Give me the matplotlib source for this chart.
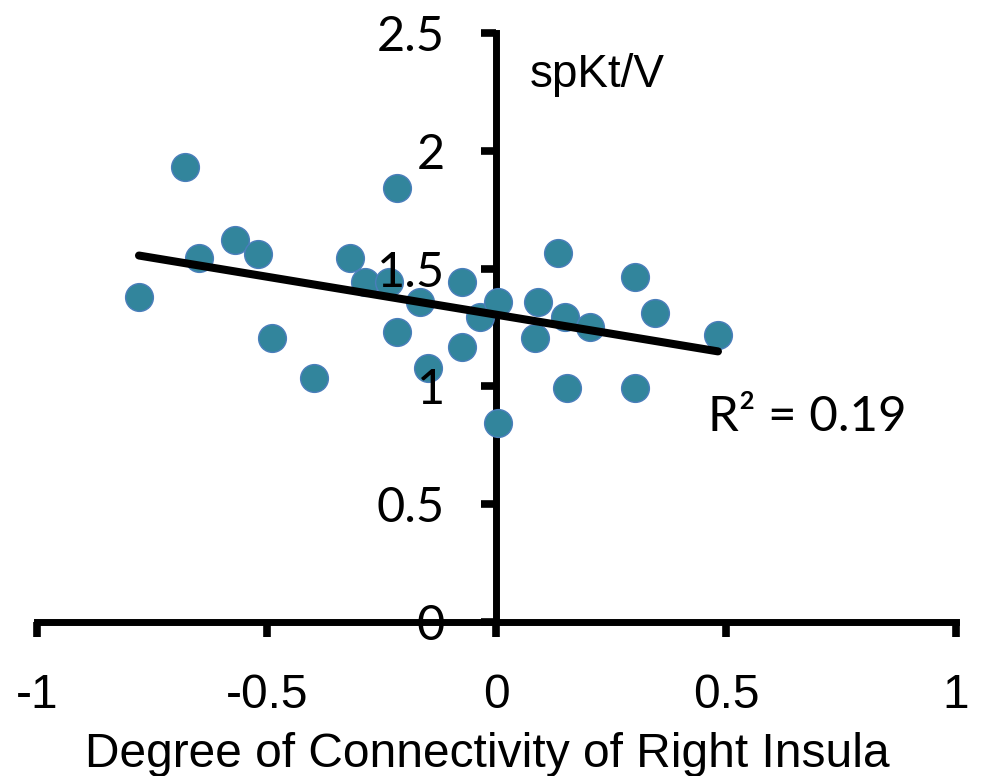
import numpy as np
import matplotlib
matplotlib.use("Agg")
import matplotlib.pyplot as plt

# Degree of connectivity of right insula vs spKt/V
connectivity = [-0.678, -0.569, -0.519, -0.647, -0.778, -0.489, -0.397, -0.319,
                -0.286, -0.233, -0.166, -0.217, -0.217, -0.075, -0.075, -0.149,
                -0.036, 0.003, 0.003, 0.090, 0.084, 0.134, 0.149, 0.203,
                0.301, 0.345, 0.482, 0.153, 0.301]
spktv = [1.931, 1.621, 1.562, 1.545, 1.379, 1.205, 1.036, 1.545,
         1.443, 1.443, 1.358, 1.842, 1.231, 1.443, 1.167, 1.078,
         1.295, 1.358, 0.845, 1.358, 1.205, 1.566, 1.295, 1.252,
         1.464, 1.312, 1.218, 0.993, 0.993]
x_ticks = [-1, -0.5, 0, 0.5, 1]
y_ticks = [0, 0.5, 1, 1.5, 2, 2.5]

x = np.array(connectivity)
y = np.array(spktv)

fig = plt.figure(figsize=(9.81, 7.76), dpi=100)
ax = fig.add_axes([0.0377, 0.1985, 0.9368, 0.759])

ax.scatter(x, y, s=400, color="#32859C", edgecolor="#4A7EBB", linewidth=1, zorder=2.3)

# linear trendline
slope, intercept = np.polyfit(x, y, 1)
xl = np.array([x.min(), x.max()])
ax.plot(xl, slope * xl + intercept, color="black", linewidth=5.8,
        solid_capstyle="round", zorder=2.4)

ax.set_xlim(-1, 1)
ax.set_ylim(0, 2.5)

ax.spines["left"].set_position(("data", 0))
ax.spines["bottom"].set_position(("data", 0))
ax.spines["top"].set_visible(False)
ax.spines["right"].set_visible(False)
for s in ["left", "bottom"]:
    ax.spines[s].set_linewidth(5)
    ax.spines[s].set_zorder(2)

ax.set_xticks(x_ticks)
ax.set_xticklabels(["-1", "-0.5", "0", "0.5", "1"], fontsize=34.5, family="Liberation Sans")
ax.set_yticks(y_ticks)
ax.set_yticklabels(["0", "0.5", "1", "1.5", "2", "2.5"], fontsize=35, family="Lato")
ax.tick_params(axis="both", direction="out", length=11, width=5.5, pad=26)
ax.xaxis.set_zorder(2.6)
ax.yaxis.set_zorder(2.6)

ax.text(0.073, 2.271, "spKt/V", fontsize=33, family="Liberation Sans", va="baseline")
ax.text(0.46, 0.81, "R² = 0.19", fontsize=35.5, family="Lato", va="baseline")

fig.text(0.497, 1 - 767 / 776, "Degree of Connectivity of Right Insula",
         fontsize=34.5, family="Liberation Sans", ha="center", va="baseline")

fig.savefig("out.png", dpi=100)
